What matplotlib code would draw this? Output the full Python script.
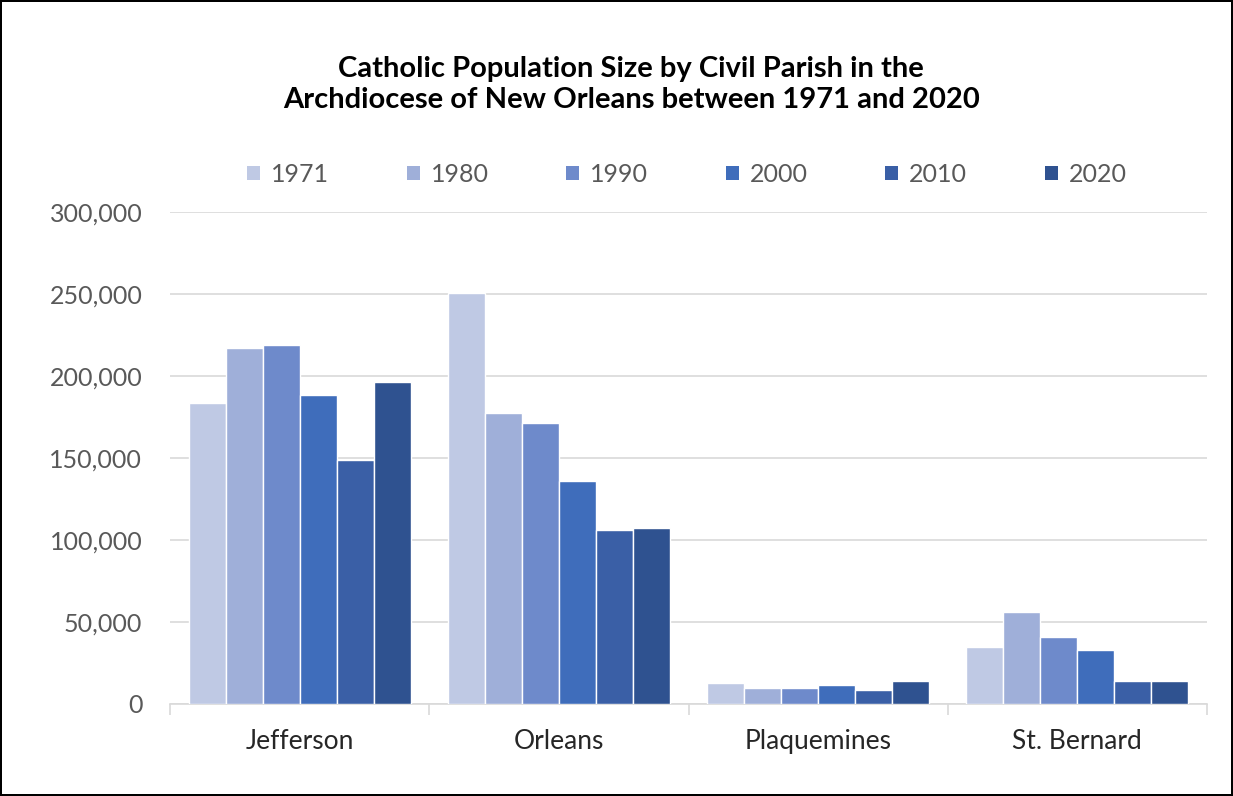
import numpy as np
import matplotlib.pyplot as plt
from matplotlib.patches import Patch
from matplotlib.ticker import FuncFormatter

parishes = ["Jefferson", "Orleans", "Plaquemines", "St. Bernard"]
years = ["1971", "1980", "1990", "2000", "2010", "2020"]
pop_1971 = [183400, 250400, 12900, 34900]
pop_1980 = [216900, 177600, 9900, 56000]
pop_1990 = [218700, 171100, 9500, 40700]
pop_2000 = [188400, 136200, 11700, 32800]
pop_2010 = [148600, 105900, 8400, 13900]
pop_2020 = [196500, 107300, 14300, 13900]
series = [pop_1971, pop_1980, pop_1990, pop_2000, pop_2010, pop_2020]
colors = ["#BFC9E4", "#9FAFD9", "#6E8ACB", "#3F6DBB", "#3A5FA6", "#2F5290"]

plt.rcParams['font.family'] = ['Lato', 'DejaVu Sans']

fig = plt.figure(figsize=(12.33, 7.96), dpi=100)
fig.patch.set_edgecolor('black')
fig.patch.set_linewidth(1.5)
ax = fig.add_axes([0.1379, 0.1156, 0.8410, 0.6181])

x = np.arange(len(parishes)) + 0.5
w = 1 / 7
for i, vals in enumerate(series):
    ax.bar(x + (i - 2.5) * w, vals, width=w, color=colors[i],
           edgecolor='white', linewidth=1, zorder=3)

ax.set_xlim(0, len(parishes))
ax.set_ylim(0, 300000)
ax.set_yticks(np.arange(0, 300001, 50000))
ax.yaxis.set_major_formatter(FuncFormatter(lambda v, p: f"{int(v):,}"))
ax.set_xticks(np.arange(0, len(parishes) + 1))
ax.set_xticklabels([])
ax.set_xticks(x, minor=True)
ax.set_xticklabels(parishes, minor=True)
ax.tick_params(axis='x', which='major', length=8, color='#d9d9d9', width=1.2)
ax.tick_params(axis='x', which='minor', length=0, labelsize=19,
               labelcolor='#262626', pad=18)
ax.tick_params(axis='y', length=0, labelsize=18, labelcolor='#595959', pad=20)
ax.grid(axis='y', color='#d9d9d9', linewidth=1.2, zorder=0)
for s in ['top', 'right', 'left']:
    ax.spines[s].set_visible(False)
ax.spines['bottom'].set_color('#d9d9d9')
ax.spines['bottom'].set_linewidth(1.2)

fig.text(0.512, 0.894, "Catholic Population Size by Civil Parish in the\n"
         "Archdiocese of New Orleans between 1971 and 2020",
         ha='center', va='center', fontsize=21, fontweight='bold',
         color='black', linespacing=1.25)

handles = [Patch(facecolor=c, edgecolor='none') for c in colors]
fig.legend(handles, years, loc='center', bbox_to_anchor=(0.557, 0.781),
           ncol=6, frameon=False, fontsize=18, labelcolor='#595959',
           handlelength=0.52, handleheight=0.52, handletextpad=0.44,
           columnspacing=3.1)

fig.savefig("out.png", dpi=100, edgecolor=fig.get_edgecolor())
